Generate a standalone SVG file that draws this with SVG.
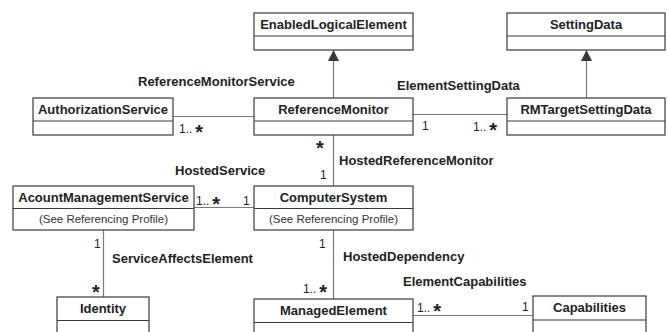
<svg xmlns="http://www.w3.org/2000/svg" width="668" height="332" viewBox="0 0 668 332">
  <style>
    .box { fill: #fff; stroke: #3a3a3a; stroke-width: 1.2; }
    .div { stroke: #3a3a3a; stroke-width: 1.2; }
    .title { font-family: "Liberation Sans", Arial, sans-serif; font-size: 13px; font-weight: bold; fill: #222; text-anchor: middle; }
    .note { font-family: "Liberation Sans", Arial, sans-serif; font-size: 11.5px; fill: #333; text-anchor: middle; }
    .lbl { font-family: "Liberation Sans", Arial, sans-serif; font-size: 13px; font-weight: bold; fill: #222; }
    .mul { font-family: "Liberation Sans", Arial, sans-serif; font-size: 12px; fill: #222; }
    .star { font-family: "Liberation Sans", Arial, sans-serif; font-size: 20px; font-weight: bold; fill: #222; }
    .conn { stroke: #7a7a7a; stroke-width: 1.2; fill: none; }
  </style>
  <defs>
    <marker id="gen" viewBox="0 0 12 12" markerWidth="12" markerHeight="12" refX="6" refY="0" orient="0" markerUnits="userSpaceOnUse">
      <path d="M6 0 L11.5 11 L0.5 11 Z" fill="#3a3a3a"/>
    </marker>
  </defs>
  <rect width="668" height="332" fill="#fff"/>

  <!-- connectors -->
  <g id="connectors">
    <!-- generalisations -->
    <line class="conn" x1="333.5" y1="98" x2="333.5" y2="50" marker-end="url(#gen)"/>
    <line class="conn" x1="586.5" y1="98" x2="586.5" y2="50" marker-end="url(#gen)"/>
    <!-- ReferenceMonitorService -->
    <line class="conn" x1="173" y1="116.5" x2="254" y2="116.5"/>
    <!-- ElementSettingData -->
    <line class="conn" x1="413" y1="114.5" x2="507" y2="114.5"/>
    <!-- HostedReferenceMonitor -->
    <line class="conn" x1="333.5" y1="135" x2="333.5" y2="186"/>
    <!-- HostedService -->
    <line class="conn" x1="194" y1="207.5" x2="254" y2="207.5"/>
    <!-- ServiceAffectsElement -->
    <line class="conn" x1="103.5" y1="230" x2="103.5" y2="297"/>
    <!-- HostedDependency -->
    <line class="conn" x1="333.5" y1="230" x2="333.5" y2="299"/>
    <!-- ElementCapabilities -->
    <line class="conn" x1="413" y1="315.5" x2="533" y2="315.5"/>

    <!-- association names -->
    <text class="lbl" x="138" y="86">ReferenceMonitorService</text>
    <text class="lbl" x="397" y="89.5">ElementSettingData</text>
    <text class="lbl" x="339" y="165">HostedReferenceMonitor</text>
    <text class="lbl" x="175" y="175">HostedService</text>
    <text class="lbl" x="112" y="263">ServiceAffectsElement</text>
    <text class="lbl" x="343" y="261">HostedDependency</text>
    <text class="lbl" x="403" y="286">ElementCapabilities</text>

    <!-- multiplicities -->
    <text class="mul" x="179" y="133">1..<tspan class="star" dx="3" dy="6">*</tspan></text>
    <text class="mul" x="422" y="130">1</text>
    <text class="mul" x="473" y="131">1..<tspan class="star" dx="3" dy="6">*</tspan></text>
    <text class="star" x="316" y="155">*</text>
    <text class="mul" x="320" y="179">1</text>
    <text class="mul" x="196" y="205">1..<tspan class="star" dx="3" dy="6">*</tspan></text>
    <text class="mul" x="243" y="205">1</text>
    <text class="mul" x="94" y="248">1</text>
    <text class="star" x="92" y="299">*</text>
    <text class="mul" x="319" y="248">1</text>
    <text class="mul" x="303" y="293">1..<tspan class="star" dx="3" dy="6">*</tspan></text>
    <text class="mul" x="417" y="312">1..<tspan class="star" dx="3" dy="6">*</tspan></text>
    <text class="mul" x="522" y="311">1</text>
  </g>

  <!-- classes -->
  <g id="EnabledLogicalElement">
    <rect class="box" x="254" y="13" width="159" height="37"/>
    <line class="div" x1="254" y1="36" x2="413" y2="36"/>
    <text class="title" x="333.5" y="29">EnabledLogicalElement</text>
  </g>
  <g id="SettingData">
    <rect class="box" x="507" y="13" width="158" height="37"/>
    <line class="div" x1="507" y1="36" x2="665" y2="36"/>
    <text class="title" x="586" y="29">SettingData</text>
  </g>
  <g id="AuthorizationService">
    <rect class="box" x="33" y="98" width="140" height="37"/>
    <line class="div" x1="33" y1="121" x2="173" y2="121"/>
    <text class="title" x="103" y="114">AuthorizationService</text>
  </g>
  <g id="ReferenceMonitor">
    <rect class="box" x="254" y="98" width="159" height="37"/>
    <line class="div" x1="254" y1="121" x2="413" y2="121"/>
    <text class="title" x="333.5" y="114">ReferenceMonitor</text>
  </g>
  <g id="RMTargetSettingData">
    <rect class="box" x="507" y="98" width="158" height="37"/>
    <line class="div" x1="507" y1="121" x2="665" y2="121"/>
    <text class="title" x="586" y="114">RMTargetSettingData</text>
  </g>
  <g id="AcountManagementService">
    <rect class="box" x="13" y="186" width="181" height="44"/>
    <line class="div" x1="13" y1="208.5" x2="194" y2="208.5"/>
    <text class="title" x="103.5" y="202">AcountManagementService</text>
    <text class="note" x="103.5" y="223">(See Referencing Profile)</text>
  </g>
  <g id="ComputerSystem">
    <rect class="box" x="254" y="186" width="159" height="44"/>
    <line class="div" x1="254" y1="208.5" x2="413" y2="208.5"/>
    <text class="title" x="333.5" y="202">ComputerSystem</text>
    <text class="note" x="333.5" y="223">(See Referencing Profile)</text>
  </g>
  <g id="Identity">
    <rect class="box" x="57" y="297" width="92" height="50"/>
    <line class="div" x1="57" y1="320.5" x2="149" y2="320.5"/>
    <text class="title" x="103" y="313">Identity</text>
  </g>
  <g id="ManagedElement">
    <rect class="box" x="254" y="299" width="159" height="50"/>
    <line class="div" x1="254" y1="322.5" x2="413" y2="322.5"/>
    <text class="title" x="333.5" y="315">ManagedElement</text>
  </g>
  <g id="Capabilities">
    <rect class="box" x="533" y="296" width="113" height="50"/>
    <line class="div" x1="533" y1="320" x2="646" y2="320"/>
    <text class="title" x="589.5" y="312">Capabilities</text>
  </g>
</svg>
